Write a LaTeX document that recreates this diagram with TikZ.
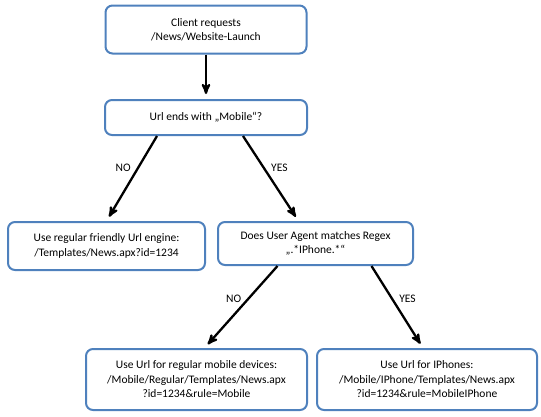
\documentclass[tikz,border=0pt]{standalone}
\usepackage{fontspec}
\setmainfont{Carlito}
\usetikzlibrary{arrows}
\definecolor{boxblue}{RGB}{79,129,189}

\begin{document}
\begin{tikzpicture}[x=1pt,y=-1pt,->,>=stealth',shorten >=5pt,auto,line width=2.3pt,
    main node/.style={draw=boxblue,line width=2pt,rounded corners=7pt,fill=white,align=center,
      font=\fontsize{11.5}{14.5}\selectfont,inner sep=2pt}]
      \useasboundingbox (0,0) rectangle (541,416);
      \node[main node,minimum width=201pt,minimum height=48pt] (1) at (206,29.5) {Client requests\\/News/Website-Launch};
      \node[main node,minimum width=202pt,minimum height=35pt] (2) at (206,117.5) {Url ends with „Mobile“?};
      \node[main node,minimum width=197pt,minimum height=48pt] (3) at (106.5,246) {Use regular friendly Url engine:\\/Templates/News.apx?id=1234};
      \node[main node,minimum width=195pt,minimum height=43pt] (4) at (315.5,243.5) {Does User Agent matches Regex\\„.*IPhone.*“};
      \node[main node,minimum width=221pt,minimum height=61pt] (5) at (196.5,379.5) {Use Url for regular mobile devices:\\/Mobile/Regular/Templates/News.apx\\?id=1234\&rule=Mobile};
      \node[main node,minimum width=220pt,minimum height=61pt] (6) at (427,379.5) {Use Url for IPhones:\\/Mobile/IPhone/Templates/News.apx\\?id=1234\&rule=MobileIPhone};

      \path[every node/.style={font=\fontsize{11.5}{14.5}\selectfont,inner sep=6pt}]
        (1) edge (2)
        ([xshift=-49pt]2.south) edge node [left,pos=0.38] {NO} (3.north)
        ([xshift=37pt]2.south) edge node [right,pos=0.38] {YES} ([xshift=-17pt]4.north)
        ([xshift=-38pt]4.south) edge node [left,pos=0.4] {NO} ([xshift=8pt]5.north)
        ([xshift=56pt]4.south) edge node [right,pos=0.4] {YES} ([xshift=-4pt]6.north);

    \end{tikzpicture}
\end{document}
